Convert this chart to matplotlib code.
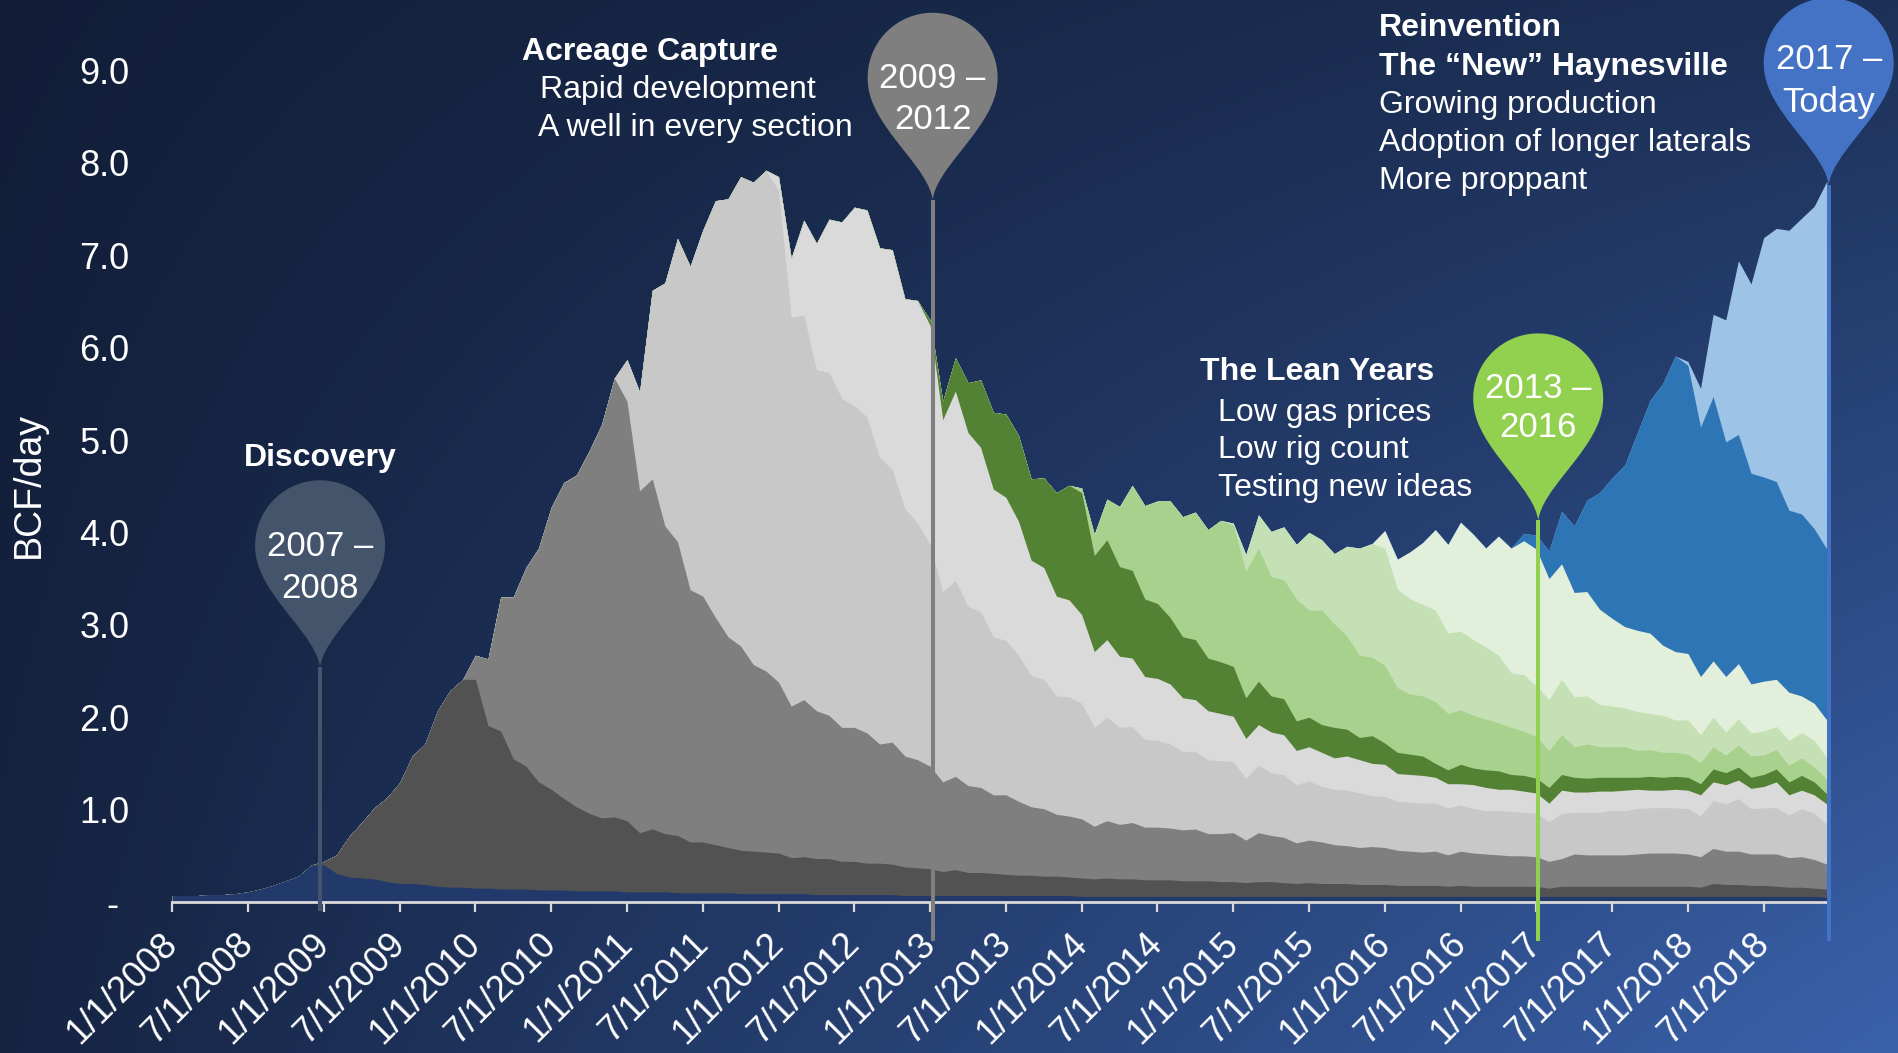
import numpy as np
import matplotlib
matplotlib.use("Agg")
import matplotlib.pyplot as plt
from matplotlib.path import Path
from matplotlib.patches import PathPatch
from matplotlib.transforms import IdentityTransform

plt.rcParams['font.family'] = ['Liberation Sans', 'DejaVu Sans']

W, H, DPI = 1898, 1053, 100

# ---------------- data (BCF/day, monthly Jan-2008 .. Dec-2018) ----------------
months = np.arange(132)
tick_months = [0, 6, 12, 18, 24, 30, 36, 42, 48, 54, 60, 66, 72, 78, 84, 90, 96, 102, 108, 114, 120, 126]
tick_labels = ["1/1/2008", "7/1/2008", "1/1/2009", "7/1/2009", "1/1/2010", "7/1/2010",
               "1/1/2011", "7/1/2011", "1/1/2012", "7/1/2012", "1/1/2013", "7/1/2013",
               "1/1/2014", "7/1/2014", "1/1/2015", "7/1/2015", "1/1/2016", "7/1/2016",
               "1/1/2017", "7/1/2017", "1/1/2018", "7/1/2018"]
y_ticks = [0, 1, 2, 3, 4, 5, 6, 7, 8, 9]
y_tick_labels = ["- ", "1.0", "2.0", "3.0", "4.0", "5.0", "6.0", "7.0", "8.0", "9.0"]

# cumulative stack tops, each vintage from its first month
top_2008 = [0.07, 0.07, 0.07, 0.08, 0.08, 0.09, 0.11, 0.14, 0.18, 0.23, 0.28, 0.40,
            0.40, 0.31, 0.27, 0.26, 0.25, 0.22, 0.20, 0.20, 0.19, 0.17, 0.16, 0.16,
            0.15, 0.15, 0.14, 0.14, 0.14, 0.13, 0.13, 0.13, 0.12, 0.12, 0.12, 0.12,
            0.11, 0.11, 0.11, 0.11, 0.10, 0.10, 0.10, 0.10, 0.10, 0.09, 0.09, 0.09,
            0.09, 0.09, 0.09, 0.08, 0.08, 0.08, 0.08, 0.08, 0.08, 0.08, 0.07, 0.07,
            0.07, 0.07, 0.07, 0.07, 0.07, 0.07, 0.07, 0.07, 0.07, 0.07, 0.07, 0.07,
            0.06, 0.06, 0.06, 0.06, 0.06, 0.06, 0.06, 0.06, 0.06, 0.06, 0.06, 0.06,
            0.06, 0.06, 0.06, 0.06, 0.06, 0.06, 0.06, 0.06, 0.06, 0.06, 0.06, 0.06,
            0.06, 0.06, 0.06, 0.06, 0.06, 0.06, 0.06, 0.06, 0.06, 0.06, 0.06, 0.06,
            0.06, 0.06, 0.06, 0.06, 0.06, 0.06, 0.06, 0.06, 0.06, 0.06, 0.06, 0.06,
            0.06, 0.06, 0.06, 0.06, 0.06, 0.06, 0.06, 0.06, 0.06, 0.06, 0.06, 0.05]
top_2009 = [0.44, 0.51, 0.71, 0.86, 1.02, 1.13, 1.29, 1.58, 1.71, 2.07, 2.29, 2.41,
            2.41, 1.91, 1.85, 1.55, 1.47, 1.30, 1.22, 1.12, 1.03, 0.96, 0.91, 0.92,
            0.88, 0.75, 0.79, 0.74, 0.72, 0.65, 0.65, 0.62, 0.59, 0.56, 0.55, 0.54,
            0.53, 0.48, 0.49, 0.47, 0.47, 0.44, 0.44, 0.42, 0.42, 0.41, 0.38, 0.37,
            0.36, 0.33, 0.35, 0.32, 0.32, 0.31, 0.30, 0.29, 0.29, 0.28, 0.28, 0.27,
            0.26, 0.25, 0.26, 0.25, 0.25, 0.24, 0.24, 0.24, 0.23, 0.23, 0.23, 0.22,
            0.22, 0.21, 0.22, 0.22, 0.21, 0.20, 0.21, 0.20, 0.20, 0.20, 0.19, 0.19,
            0.19, 0.18, 0.18, 0.18, 0.18, 0.17, 0.18, 0.17, 0.17, 0.17, 0.17, 0.17,
            0.17, 0.15, 0.17, 0.17, 0.17, 0.17, 0.17, 0.17, 0.17, 0.17, 0.17, 0.17,
            0.17, 0.16, 0.20, 0.19, 0.19, 0.18, 0.18, 0.17, 0.16, 0.16, 0.15, 0.14]
top_2010 = [2.67, 2.63, 3.30, 3.30, 3.62, 3.83, 4.27, 4.54, 4.62, 4.88, 5.17, 5.67,
            5.42, 4.45, 4.58, 4.07, 3.90, 3.38, 3.31, 3.08, 2.87, 2.77, 2.57, 2.50,
            2.38, 2.12, 2.19, 2.07, 2.02, 1.89, 1.89, 1.83, 1.71, 1.73, 1.58, 1.54,
            1.47, 1.30, 1.36, 1.26, 1.24, 1.16, 1.16, 1.09, 1.03, 1.01, 0.95, 0.93,
            0.90, 0.82, 0.88, 0.84, 0.86, 0.81, 0.81, 0.80, 0.78, 0.79, 0.74, 0.74,
            0.75, 0.67, 0.75, 0.72, 0.70, 0.64, 0.67, 0.65, 0.62, 0.61, 0.59, 0.60,
            0.59, 0.56, 0.55, 0.54, 0.55, 0.51, 0.55, 0.53, 0.52, 0.51, 0.50, 0.50,
            0.49, 0.44, 0.47, 0.52, 0.51, 0.51, 0.51, 0.51, 0.52, 0.53, 0.53, 0.53,
            0.52, 0.49, 0.58, 0.55, 0.55, 0.52, 0.52, 0.52, 0.48, 0.49, 0.46, 0.41]
top_2011 = [5.87, 5.52, 6.62, 6.70, 7.18, 6.88, 7.27, 7.59, 7.61, 7.85, 7.79, 7.92,
            7.70, 6.33, 6.35, 5.76, 5.73, 5.45, 5.37, 5.25, 4.81, 4.68, 4.26, 4.10,
            3.87, 3.36, 3.48, 3.20, 3.14, 2.87, 2.83, 2.67, 2.45, 2.41, 2.23, 2.22,
            2.15, 1.89, 2.00, 1.89, 1.90, 1.76, 1.75, 1.71, 1.63, 1.63, 1.54, 1.53,
            1.52, 1.34, 1.48, 1.40, 1.38, 1.27, 1.31, 1.25, 1.22, 1.21, 1.18, 1.15,
            1.14, 1.09, 1.08, 1.07, 1.07, 1.02, 1.05, 1.01, 0.99, 0.99, 0.98, 0.97,
            0.96, 0.87, 0.96, 0.97, 0.97, 0.97, 0.99, 0.99, 1.01, 1.02, 1.02, 1.02,
            1.01, 0.93, 1.10, 1.06, 1.12, 1.01, 1.02, 1.02, 0.94, 1.01, 0.96, 0.84]
top_2012 = [7.85, 6.97, 7.38, 7.13, 7.39, 7.36, 7.52, 7.49, 7.08, 7.06, 6.53, 6.51,
            6.24, 5.22, 5.53, 5.08, 4.92, 4.47, 4.38, 4.12, 3.70, 3.62, 3.31, 3.27,
            3.11, 2.71, 2.84, 2.66, 2.64, 2.44, 2.42, 2.36, 2.21, 2.19, 2.07, 2.04,
            2.01, 1.77, 1.92, 1.84, 1.81, 1.64, 1.68, 1.62, 1.56, 1.58, 1.54, 1.50,
            1.49, 1.39, 1.38, 1.37, 1.35, 1.28, 1.28, 1.27, 1.24, 1.22, 1.22, 1.20,
            1.18, 1.07, 1.21, 1.19, 1.19, 1.20, 1.20, 1.21, 1.22, 1.21, 1.21, 1.22,
            1.21, 1.16, 1.30, 1.27, 1.32, 1.23, 1.25, 1.30, 1.16, 1.21, 1.16, 1.06]
top_2013 = [6.30, 5.42, 5.89, 5.62, 5.65, 5.30, 5.28, 5.05, 4.58, 4.59, 4.43, 4.51,
            4.43, 3.75, 3.92, 3.63, 3.59, 3.28, 3.23, 3.08, 2.87, 2.84, 2.64, 2.60,
            2.55, 2.21, 2.39, 2.23, 2.20, 1.96, 2.00, 1.92, 1.89, 1.87, 1.78, 1.80,
            1.72, 1.62, 1.60, 1.58, 1.50, 1.43, 1.49, 1.45, 1.43, 1.42, 1.38, 1.37,
            1.34, 1.24, 1.38, 1.35, 1.34, 1.35, 1.35, 1.35, 1.35, 1.36, 1.35, 1.36,
            1.35, 1.28, 1.44, 1.40, 1.46, 1.35, 1.38, 1.44, 1.30, 1.37, 1.30, 1.17]
top_2014 = [4.48, 3.98, 4.36, 4.28, 4.51, 4.29, 4.34, 4.34, 4.17, 4.22, 4.03, 4.13,
            4.08, 3.58, 3.83, 3.52, 3.49, 3.28, 3.16, 3.16, 3.01, 2.88, 2.67, 2.65,
            2.56, 2.32, 2.25, 2.23, 2.17, 2.04, 2.08, 2.02, 1.98, 1.94, 1.89, 1.85,
            1.79, 1.64, 1.81, 1.68, 1.71, 1.68, 1.68, 1.68, 1.64, 1.65, 1.62, 1.62,
            1.60, 1.51, 1.68, 1.59, 1.70, 1.58, 1.59, 1.65, 1.48, 1.56, 1.46, 1.33]
top_2015 = [4.10, 3.76, 4.19, 4.01, 4.06, 3.87, 4.00, 3.92, 3.77, 3.85, 3.83, 3.88,
            3.83, 3.39, 3.28, 3.22, 3.16, 2.91, 2.93, 2.84, 2.76, 2.67, 2.48, 2.46,
            2.34, 2.19, 2.41, 2.22, 2.23, 2.14, 2.12, 2.10, 2.06, 2.04, 2.02, 1.97,
            1.97, 1.81, 2.00, 1.84, 1.98, 1.83, 1.85, 1.90, 1.75, 1.83, 1.75, 1.56]
top_2016 = [4.02, 3.71, 3.79, 3.89, 4.03, 3.87, 4.11, 3.98, 3.83, 3.96, 3.83, 3.91,
            3.82, 3.50, 3.66, 3.35, 3.36, 3.17, 3.07, 2.98, 2.94, 2.91, 2.78, 2.71,
            2.69, 2.44, 2.61, 2.44, 2.58, 2.36, 2.39, 2.41, 2.27, 2.23, 2.15, 1.97]
top_2017 = [3.99, 3.97, 3.80, 4.23, 4.07, 4.35, 4.43, 4.59, 4.73, 5.08, 5.43, 5.61,
            5.91, 5.81, 5.14, 5.47, 4.98, 5.06, 4.64, 4.60, 4.55, 4.24, 4.20, 4.04, 3.82]
top_2018 = [5.85, 5.56, 6.36, 6.30, 6.94, 6.69, 7.19, 7.29, 7.27, 7.40, 7.53, 7.80]

vintage_starts = [0, 12, 24, 36, 48, 60, 72, 84, 96, 107, 120]
vintage_tops = [top_2008, top_2009, top_2010, top_2011, top_2012, top_2013,
                top_2014, top_2015, top_2016, top_2017, top_2018]
vintage_colors = ["#22396b", "#525252", "#7f7f7f", "#c8c8c8", "#dadada", "#548235",
                  "#a9d18e", "#c5e0b4", "#e2efda", "#2e75b6", "#9dc3e6"]

# ---------------- figure ----------------
fig = plt.figure(figsize=(W / DPI, H / DPI), dpi=DPI)

# background gradient
bg = fig.add_axes([0, 0, 1, 1], zorder=-10)
yy, xx = np.mgrid[0:1:300j, 0:1:400j]
t = 0.08 * yy + xx * (0.27 + 0.65 * yy)
c0 = np.array([18, 30, 56]) / 255.0
c1 = np.array([58, 98, 172]) / 255.0
img = c0 + t[..., None] * (c1 - c0)
bg.imshow(img, extent=[0, 1, 0, 1], origin='upper', aspect='auto', interpolation='bilinear')
bg.axis('off')

px_per_unit = 92.4
x0_px, x1_px, y0_px = 172.3, 1826.8, 902.0
ax = fig.add_axes([x0_px / W, (H - y0_px) / H, (x1_px - x0_px) / W, y0_px / H])
ax.patch.set_alpha(0)
ax.set_xlim(0, 131)
ax.set_ylim(0, y0_px / px_per_unit)

# build cumulative tops
tops = []
prev = np.zeros(len(months))
for start, vals in zip(vintage_starts, vintage_tops):
    top = prev.copy()
    seg = np.asarray(vals, dtype=float)
    top[start:start + len(seg)] = np.maximum(seg, prev[start:start + len(seg)])
    tops.append(top)
    prev = top

# draw from top layer down (painter's order) to avoid seams
for top, color in reversed(list(zip(tops, vintage_colors))):
    ax.fill_between(months, 0, top, color=color, lw=0, zorder=2)

# axes styling
for s in ['left', 'right', 'top']:
    ax.spines[s].set_visible(False)
ax.spines['bottom'].set_color('#d9d9d9')
ax.spines['bottom'].set_linewidth(2.0)
ax.spines['bottom'].set_zorder(3)

ax.set_yticks(y_ticks)
ax.set_yticklabels(y_tick_labels)
ax.tick_params(axis='y', length=0, pad=30.8, labelsize=26, labelcolor='white')

ax.set_xticks(tick_months)
ax.set_xticklabels(tick_labels, rotation=45, ha='right', va='center', rotation_mode='anchor')
ax.tick_params(axis='x', length=7.5, width=1.6, color='#d9d9d9', pad=19,
               labelsize=26, labelcolor='white', direction='out')

fig.text(29 / W, 1 - 485 / H, "BCF/day", rotation=90, ha='center', va='center',
         fontsize=27, color='white')


# ---------------- pins ----------------
def pin_path(R=65.0, cy=122.0):
    th0, th1 = np.deg2rad(200), np.deg2rad(-20)
    P0 = np.array([R * np.cos(th0), cy + R * np.sin(th0)])
    P1 = np.array([R * np.cos(th1), cy + R * np.sin(th1)])
    d0 = np.array([-np.sin(th0), np.cos(th0)])
    d1 = np.array([np.sin(th1), -np.cos(th1)])
    k = 40.0
    verts = [(0, 0), (-4, 30), tuple(P0 + k * d0), tuple(P0)]
    codes = [Path.MOVETO, Path.CURVE4, Path.CURVE4, Path.CURVE4]
    for th in np.linspace(th0, th1, 80)[1:]:
        verts.append((R * np.cos(th), cy + R * np.sin(th)))
        codes.append(Path.LINETO)
    verts += [tuple(P1 + k * d1), (4, 30), (0, 0), (0, 0)]
    codes += [Path.CURVE4, Path.CURVE4, Path.CURVE4, Path.CLOSEPOLY]
    return np.array(verts), codes


pins = [
    # x (month), tip value, colour, line bottom value, text lines, text offsets (px above tip)
    (11.7, 2.54, "#44546a", -0.10, ("2007 \u2013", "2008"), (121, 79)),
    (60.2, 7.60, "#7f7f7f", -0.42, ("2009 \u2013", "2012"), (121, 80)),
    (108.15, 4.13, "#92d050", -0.42, ("2013 \u2013", "2016"), (132, 93)),
    (131.15, 7.76, "#4472c4", -0.42, ("2017 \u2013", "Today"), (125, 82)),
]
base_verts, base_codes = pin_path()
for x, ytip, col, ybot, lines, offs in pins:
    ax.plot([x, x], [ytip, ybot], color=col, lw=2.9, clip_on=False, zorder=5,
            solid_capstyle='butt')
    tx, ty = ax.transData.transform((x, ytip))
    v = base_verts + np.array([tx, ty])
    patch = PathPatch(Path(v, base_codes), transform=IdentityTransform(),
                      facecolor=col, edgecolor='none', zorder=6)
    fig.add_artist(patch)
    for s, o in zip(lines, offs):
        fig.text(tx / W, (ty + o) / H, s, ha='center', va='center', fontsize=25,
                 color='white', zorder=7)


# ---------------- annotations ----------------
def ftext(x, y, s, bold=False, ha='left', size=23):
    fig.text(x / W, 1 - y / H, s, ha=ha, va='center', fontsize=size, color='white',
             fontweight='bold' if bold else 'normal', zorder=7)


ftext(320, 458, "Discovery", bold=True, ha='center')
ftext(521.7, 52, "Acreage Capture", bold=True)
ftext(540, 90, "Rapid development")
ftext(537.5, 128, "A well in every section")
ftext(1199.6, 372.5, "The Lean Years", bold=True)
ftext(1217.8, 412.5, "Low gas prices")
ftext(1217.8, 450, "Low rig count")
ftext(1217.8, 487.5, "Testing new ideas")
ftext(1378.8, 27.5, "Reinvention", bold=True)
ftext(1378.8, 66.5, "The \u201cNew\u201d Haynesville", bold=True)
ftext(1378.8, 105, "Growing production")
ftext(1378.8, 142.5, "Adoption of longer laterals")
ftext(1378.8, 181.5, "More proppant")

fig.savefig("out.png", dpi=DPI)
